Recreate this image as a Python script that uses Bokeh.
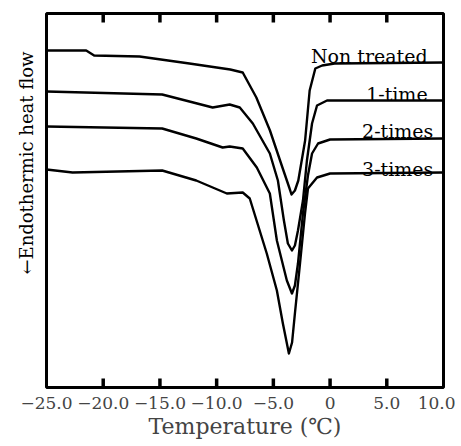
import math
from bokeh.plotting import figure
from bokeh.models import Range1d, FixedTicker, Title, ColumnDataSource
from bokeh.core.properties import value
from bokeh.embed import file_html
from bokeh.resources import INLINE

# Temperature (deg C) and relative heat flow (arbitrary units)
t_non = [-25.0, -21.5, -20.8, -16.8, -12.4, -10.0, -8.8, -7.7, -6.5, -5.3, -4.2, -3.6, -3.4, -3.1, -2.8, -2.2, -1.8, -1.3, -0.7, 0.4, 10.0]
h_non = [337, 337, 332, 331, 324, 320, 318, 315, 290, 257, 220, 200, 193, 197, 207, 247, 297, 319, 322, 324, 325]

t_1 = [-25.0, -14.8, -12.4, -10.35, -8.85, -7.96, -6.81, -5.31, -4.6, -4.07, -3.72, -3.36, -3.1, -2.83, -2.39, -2.04, -1.59, -1.15, -0.27, 10.0]
h_1 = [296, 293, 286, 280, 283, 280, 264, 234, 207, 167, 144, 137, 142, 157, 187, 227, 264, 282, 287, 287]

t_2 = [-25.0, -14.8, -11.8, -9.47, -8.85, -7.7, -6.46, -5.31, -4.69, -3.81, -3.36, -3.1, -2.83, -2.39, -1.95, -1.59, -1.06, 0.0, 10.0]
h_2 = [261, 259, 249, 240, 241, 239, 220, 194, 147, 107, 94, 102, 124, 174, 212, 234, 244, 248, 249]

t_3 = [-25.0, -22.7, -14.8, -11.8, -9.1, -7.7, -7.08, -5.58, -4.69, -4.16, -3.63, -3.35, -3.1, -2.65, -2.21, -1.95, -1.15, 0.0, 10.0]
h_3 = [218, 215, 217, 207, 194, 195, 189, 134, 97, 64, 34, 45, 74, 124, 174, 199, 210, 214, 215]

series_names = ["Non treated", "1-time", "2-times", "3-times"]
label_x = [8.6, 8.6, 9.1, 9.1]
label_y = [332, 294, 257, 219]

x_ticks = [-25, -20, -15, -10, -5, 0, 5, 10]
x_tick_labels = ["\u221225.0", "\u221220.0", "\u221215.0", "\u221210.0", "\u22125.0", "0", "5.0", "10.0"]

FONT = "DejaVu Serif"
Y_MIN, Y_MAX = 0, 374
TICK = 9  # inward tick length, in heat-flow units (1 unit = 1 px here)

p = figure(width=455, height=446, output_backend="svg", toolbar_location=None,
           x_range=Range1d(-25, 10), y_range=Range1d(Y_MIN, Y_MAX),
           min_border_left=46, min_border_right=12, min_border_top=13, min_border_bottom=59,
           background_fill_color="white", border_fill_color="white")
p.grid.visible = False
p.outline_line_color = "black"
p.outline_line_width = 3

xa = p.xaxis[0]
xa.ticker = FixedTicker(ticks=x_ticks)
xa.major_label_overrides = {t: s for t, s in zip(x_ticks, x_tick_labels)}
xa.major_tick_in = 0
xa.major_tick_out = 0
xa.minor_tick_line_color = None
xa.axis_line_color = None
xa.major_label_text_font = FONT
xa.major_label_text_font_size = "17px"
xa.major_label_standoff = 9
xa.axis_label = "Temperature (\u2103)"
xa.axis_label_text_font = FONT
xa.axis_label_text_font_size = "22px"
xa.axis_label_text_font_style = "normal"
xa.axis_label_standoff = 2

ya = p.yaxis[0]
ya.ticker = FixedTicker(ticks=[])
ya.major_tick_line_color = None
ya.minor_tick_line_color = None
ya.axis_line_color = None
ya.major_label_standoff = 0

ytitle = Title(text="\u2190Endothermic heat flow", align="right", offset=38,
               text_font=FONT, text_font_size="18px", text_font_style="normal",
               text_color="black", standoff=20)
p.add_layout(ytitle, "left")

# inward tick marks on the bottom and top edges of the frame
inner_ticks = x_ticks[1:-1]
n = len(inner_ticks)
tick_src = ColumnDataSource(dict(
    xs=[[t, t] for t in inner_ticks] + [[t, t] for t in inner_ticks],
    ys=[[Y_MIN, Y_MIN + TICK]] * n + [[Y_MAX - TICK, Y_MAX]] * n,
))
p.multi_line(xs="xs", ys="ys", source=tick_src, line_color="#000000", line_width=3.5)

for t, h in [(t_non, h_non), (t_1, h_1), (t_2, h_2), (t_3, h_3)]:
    p.line(t, h, line_color="black", line_width=2.4, line_join="round")

p.text(x=label_x, y=label_y, text=series_names, text_font=value(FONT),
       text_font_size="19px", text_align="right", text_baseline="alphabetic",
       text_color="black")

open("out.html", "w").write(file_html(p, INLINE))
